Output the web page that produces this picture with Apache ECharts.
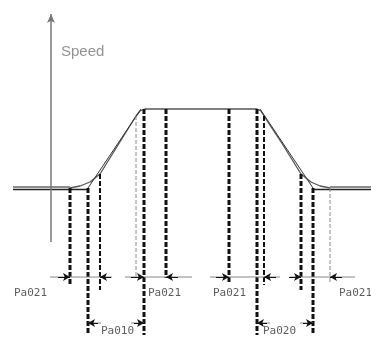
<!DOCTYPE html>
<html>
<head>
<meta charset="utf-8">
<script src="https://cdn.jsdelivr.net/npm/echarts@6/dist/echarts.min.js"></script>
<style>
  html, body { margin: 0; padding: 0; background: #fff; }
  #chart { width: 371px; height: 347px; }
</style>
</head>
<body>
<div id="chart"></div>
<script>
// 速度曲线（时间, 速度）
const baseLevel = 0;
const topLevel = 79;
const accelCurve = [[70, 0], [80, 2], [90, 6], [100, 14], [118, 43], [136, 72], [140, 77], [145, 79]];
const decelCurve = [[257, 79], [261, 77], [264, 72], [283, 43], [301, 14], [311, 6], [320, 2], [330, 0]];
const rampLines = [[[88, 0], [141, 79]], [[260, 79], [313, 0]]];

// 虚线标记
const guideX = [70, 88, 100, 136, 144, 166, 229, 257, 264, 301, 313, 330];
const guideTop = [0, 0, 14, 72, 79, 79, 79, 79, 72, 14, 0, 0];
const guideBottom = [-97, -147, -102, -90, -147, -90, -94, -147, -97, -102, -147, -94];
const guideWeight = ['thick', 'thick', 'mid', 'thin', 'thick', 'thick', 'thick', 'thick', 'mid', 'thick', 'thick', 'thin'];

// 尺寸线
const dimLevel = -89;
const dimSpans = [[50, 112], [125, 192], [210, 280], [290, 355]];
const dimArrows = [[58, 70], [111, 100], [131, 144], [178, 166], [216, 229], [276, 264], [289, 301], [342, 330]];
const subLevel = -135;
const subSpans = [[88, 101], [131, 144], [257, 270], [300, 313]];
const subArrows = [[98, 88], [134, 144], [267, 257], [303, 313]];

// 文字
const labelTexts = ['Speed', 'Pa021', 'Pa021', 'Pa021', 'Pa021', 'Pa010', 'Pa020'];
const labelX = [61, 14, 148, 213, 339, 101, 263];
const labelY = [136, -105, -105, -105, -105, -143, -143];

const chart = echarts.init(document.getElementById('chart'));

const series = [];
const line = (data, color, width, type) => series.push({
  type: 'line', data, symbol: 'none', silent: true,
  lineStyle: { color, width, type: type || 'solid' }
});

// 速度轴
series.push({
  type: 'line', data: [], silent: true,
  markLine: {
    silent: true, symbol: ['none', 'arrow'], symbolSize: [6, 9], label: { show: false },
    lineStyle: { color: '#777', width: 1.5, type: 'solid' },
    data: [[{ coord: [51, -54] }, { coord: [51, 174] }]]
  }
});

// 基线
line([[13, baseLevel + 1], [70, baseLevel + 1]], '#666', 1.3);
line([[13, baseLevel - 1.5], [88, baseLevel - 1.5]], '#222', 1.3);
line([[330, baseLevel + 1], [371, baseLevel + 1]], '#666', 1.3);
line([[313, baseLevel - 1.5], [371, baseLevel - 1.5]], '#222', 1.3);
line([[145, topLevel], [257, topLevel]], '#555', 1.5);
line(accelCurve, '#555', 1.3);
line(decelCurve, '#555', 1.3);
rampLines.forEach(r => line(r, '#333', 1));

guideX.forEach((x, i) => {
  const w = guideWeight[i];
  const width = w === 'thick' ? 3 : w === 'mid' ? 2 : 1;
  const color = w === 'thin' ? '#888' : '#111';
  line([[x, guideTop[i]], [x, guideBottom[i]]], color, width, w === 'thin' ? [4, 2] : [5, 2]);
});

dimSpans.forEach(s => line([[s[0], dimLevel], [s[1], dimLevel]], '#888', 1));
subSpans.forEach(s => line([[s[0], subLevel], [s[1], subLevel]], '#888', 1));

series.push({
  type: 'line', data: [], silent: true,
  markLine: {
    silent: true, symbol: ['none', 'arrow'], symbolSize: [6, 7], label: { show: false },
    lineStyle: { color: '#111', width: 1, type: 'solid' },
    data: dimArrows.map(a => [{ coord: [a[0], dimLevel] }, { coord: [a[1], dimLevel] }])
      .concat(subArrows.map(a => [{ coord: [a[0], subLevel] }, { coord: [a[1], subLevel] }]))
  }
});

series.push({
  type: 'scatter', symbolSize: 0, silent: true,
  data: labelTexts.map((t, i) => ({
    value: [labelX[i], labelY[i]],
    name: t,
    label: i === 0 ? { fontFamily: 'Liberation Sans', fontSize: 15, color: '#777' } : {}
  })),
  label: {
    show: true, position: 'right', distance: 0,
    formatter: p => p.name,
    color: '#333', fontFamily: 'DejaVu Sans Mono', fontSize: 11
  },
  labelLayout: { hideOverlap: false }
});

chart.setOption({
  animation: false,
  grid: { left: 0, right: 0, top: 0, bottom: 0 },
  xAxis: { type: 'value', min: 0, max: 371, show: false },
  yAxis: { type: 'value', min: -159, max: 188, show: false },
  series
});
</script>
</body>
</html>
